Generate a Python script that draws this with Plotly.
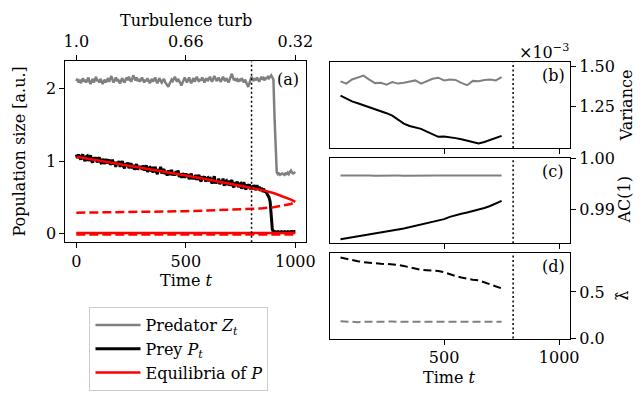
import plotly.graph_objects as go

# ---------------- data ----------------
time_a = list(range(0, 1001, 5))

predator = [
    2.10, 2.13, 2.08, 2.12, 2.07, 2.11, 2.14, 2.09, 2.12, 2.08,
    2.11, 2.15, 2.09, 2.06, 2.10, 2.13, 2.08, 2.11, 2.16, 2.10,
    2.12, 2.08, 2.13, 2.10, 2.06, 2.09, 2.12, 2.08, 2.11, 2.14,
    2.09, 2.13, 2.17, 2.12, 2.08, 2.11, 2.15, 2.10, 2.13, 2.09,
    2.07, 2.11, 2.14, 2.10, 2.08, 2.12, 2.15, 2.11, 2.16, 2.12,
    2.09, 2.13, 2.18, 2.14, 2.11, 2.15, 2.10, 2.13, 2.09, 2.12,
    2.15, 2.11, 2.08, 2.12, 2.10, 2.14, 2.11, 2.07, 2.10, 2.13,
    2.09, 2.12, 2.15, 2.10, 2.07, 2.11, 2.14, 2.10, 2.08, 2.11,
    2.13, 2.09, 2.06, 2.03, 2.02, 2.06, 2.09, 2.12, 2.10, 2.13,
    2.16, 2.12, 2.09, 2.13, 2.10, 2.06, 2.04, 2.08, 2.12, 2.15,
    2.11, 2.08, 2.12, 2.15, 2.10, 2.07, 2.11, 2.14, 2.09, 2.12,
    2.16, 2.12, 2.09, 2.13, 2.11, 2.15, 2.10, 2.08, 2.12, 2.14,
    2.10, 2.13, 2.16, 2.12, 2.09, 2.13, 2.17, 2.14, 2.10, 2.12,
    2.15, 2.11, 2.09, 2.13, 2.16, 2.12, 2.10, 2.14, 2.11, 2.08,
    2.12, 2.16, 2.20, 2.15, 2.11, 2.14, 2.10, 2.12, 2.09, 2.13,
    2.10, 2.14, 2.11, 2.08, 2.12, 2.09, 2.05, 2.02, 2.07, 2.12,
    2.16, 2.13, 2.10, 2.14, 2.11, 2.15, 2.12, 2.09, 2.13, 2.16,
    2.12, 2.14, 2.11, 2.15, 2.13, 2.17, 2.14, 2.16, 2.18, 2.15,
    2.12, 1.60, 1.05, 0.85, 0.82, 0.83, 0.81, 0.82, 0.83, 0.82,
    0.81, 0.83, 0.82, 0.84, 0.82, 0.85, 0.87, 0.84, 0.83, 0.84,
    0.85,
]

prey = [
    1.09, 1.04, 1.09, 1.05, 1.02, 1.07, 1.09, 1.03, 1.00, 1.06,
    1.07, 1.00, 1.04, 1.08, 1.00, 0.98, 1.05, 1.02, 1.05, 0.98,
    1.03, 1.05, 0.99, 0.96, 1.03, 1.00, 0.96, 1.03, 0.97, 1.00,
    1.02, 0.95, 0.97, 1.02, 0.95, 0.99, 0.92, 0.99, 0.95, 1.00,
    0.92, 0.97, 1.00, 0.93, 0.90, 0.97, 0.94, 0.98, 0.90, 0.94,
    0.97, 0.90, 0.95, 0.88, 0.93, 0.96, 0.88, 0.93, 0.90, 0.93,
    0.88, 0.94, 0.87, 0.91, 0.94, 0.85, 0.90, 0.91, 0.86, 0.92,
    0.84, 0.89, 0.92, 0.86, 0.82, 0.89, 0.86, 0.92, 0.83, 0.87,
    0.89, 0.82, 0.86, 0.80, 0.87, 0.84, 0.81, 0.88, 0.80, 0.84,
    0.80, 0.86, 0.82, 0.87, 0.78, 0.83, 0.77, 0.83, 0.81, 0.77,
    0.83, 0.78, 0.82, 0.75, 0.80, 0.83, 0.75, 0.79, 0.75, 0.81,
    0.74, 0.79, 0.81, 0.74, 0.72, 0.79, 0.75, 0.79, 0.72, 0.76,
    0.77, 0.72, 0.78, 0.73, 0.69, 0.75, 0.79, 0.69, 0.73, 0.70,
    0.76, 0.68, 0.73, 0.70, 0.76, 0.66, 0.72, 0.73, 0.67, 0.73,
    0.66, 0.71, 0.74, 0.66, 0.64, 0.71, 0.67, 0.72, 0.64, 0.68,
    0.69, 0.62, 0.68, 0.71, 0.63, 0.61, 0.68, 0.64, 0.68, 0.61,
    0.66, 0.61, 0.67, 0.64, 0.60, 0.67, 0.61, 0.65, 0.59, 0.63,
    0.60, 0.62, 0.58, 0.58, 0.55, 0.54, 0.50, 0.44, 0.28, 0.06,
    0.02, 0.03, 0.02, 0.03, 0.03, 0.02, 0.03, 0.03, 0.02, 0.03,
    0.03, 0.02, 0.03, 0.03, 0.02, 0.03, 0.03, 0.03, 0.02, 0.03,
    0.03,
]

eq_t = [0, 100, 200, 300, 400, 500, 600, 700, 800, 850, 900, 950, 980, 1000]
eq_stable = [1.06, 1.01, 0.955, 0.90, 0.85, 0.80, 0.745, 0.69, 0.635, 0.60, 0.56, 0.51, 0.47, 0.44]
eq_unstable = [0.29, 0.292, 0.295, 0.30, 0.305, 0.31, 0.32, 0.33, 0.34, 0.35, 0.365, 0.39, 0.41, 0.44]
eq_zero_t = [0, 1000]
eq_zero_solid = [0.012, 0.012]
eq_zero_dashed = [-0.008, -0.008]

time_ticks = [0, 500, 1000]
turb_ticks = ["1.0", "0.66", "0.32"]
tip_t = 800

ews_t = list(range(50, 751, 25))
var_prey = [1.320, 1.302, 1.284, 1.272, 1.260, 1.247, 1.234, 1.222, 1.210, 1.195,
            1.172, 1.145, 1.130, 1.120, 1.112, 1.095, 1.076, 1.062, 1.064, 1.061,
            1.054, 1.047, 1.038, 1.026, 1.020, 1.030, 1.043, 1.055, 1.068]
var_pred = [1.409, 1.395, 1.421, 1.432, 1.445, 1.420, 1.398, 1.400, 1.388, 1.405,
            1.395, 1.400, 1.408, 1.415, 1.395, 1.412, 1.425, 1.432, 1.415, 1.420,
            1.418, 1.400, 1.385, 1.412, 1.410, 1.418, 1.420, 1.415, 1.435]
ac_prey = [0.98405, 0.98425, 0.98448, 0.98470, 0.98492, 0.98512, 0.98530, 0.98548, 0.98565, 0.98580,
           0.98598, 0.98615, 0.98640, 0.98665, 0.98687, 0.98710, 0.98737, 0.98768, 0.98800, 0.98845,
           0.98882, 0.98905, 0.98930, 0.98955, 0.98985, 0.99020, 0.99060, 0.99105, 0.99160]
ac_pred = [0.99660, 0.99662, 0.99658, 0.99660, 0.99663, 0.99659, 0.99657, 0.99660, 0.99658, 0.99661,
           0.99659, 0.99657, 0.99660, 0.99662, 0.99659, 0.99658, 0.99660, 0.99661, 0.99659, 0.99657,
           0.99660, 0.99659, 0.99658, 0.99660, 0.99661, 0.99659, 0.99658, 0.99660, 0.99659]
lam_prey = [0.870, 0.855, 0.840, 0.830, 0.820, 0.812, 0.806, 0.802, 0.800, 0.797,
            0.790, 0.778, 0.762, 0.748, 0.738, 0.733, 0.730, 0.725, 0.712, 0.690,
            0.670, 0.655, 0.640, 0.632, 0.625, 0.605, 0.580, 0.558, 0.538]
lam_pred = [0.186, 0.181, 0.173, 0.176, 0.179, 0.181, 0.182, 0.181, 0.180, 0.182,
            0.181, 0.180, 0.181, 0.182, 0.180, 0.181, 0.182, 0.181, 0.180, 0.181,
            0.182, 0.181, 0.182, 0.179, 0.183, 0.181, 0.180, 0.181, 0.180]

# ---------------- styling ----------------
FONT = "DejaVu Serif"
TICK_SIZE = 16
LABEL_SIZE = 16
GREY = "#808080"
RED = "#ff0000"

W, H = 641, 399


def px_x(p):
    return p / W


def px_y(p):
    return 1 - p / H


fig = go.Figure()

# Panel (a)
fig.add_trace(go.Scatter(x=time_a, y=predator, mode="lines", line=dict(color=GREY, width=2.5),
                         name="Predator <i>Z</i><sub><i>t</i></sub>", xaxis="x", yaxis="y"))
fig.add_trace(go.Scatter(x=time_a, y=prey, mode="lines", line=dict(color="black", width=3),
                         name="Prey <i>P</i><sub><i>t</i></sub>", xaxis="x", yaxis="y"))
fig.add_trace(go.Scatter(x=eq_t, y=eq_stable, mode="lines", line=dict(color=RED, width=2.5),
                         name="Equilibria of <i>P</i>", xaxis="x", yaxis="y"))
fig.add_trace(go.Scatter(x=eq_t, y=eq_unstable, mode="lines", line=dict(color=RED, width=2.5, dash="9px,4px"),
                         showlegend=False, xaxis="x", yaxis="y"))
fig.add_trace(go.Scatter(x=eq_zero_t, y=eq_zero_dashed, mode="lines", line=dict(color=RED, width=3, dash="9px,4px"),
                         showlegend=False, xaxis="x", yaxis="y"))
fig.add_trace(go.Scatter(x=eq_zero_t, y=eq_zero_solid, mode="lines", line=dict(color=RED, width=2.5),
                         showlegend=False, xaxis="x", yaxis="y"))
# invisible trace to carry the top (turbulence) axis
fig.add_trace(go.Scatter(x=time_ticks, y=[None] * len(time_ticks), mode="lines",
                         showlegend=False, hoverinfo="skip", xaxis="x2", yaxis="y"))

# Panel (b) variance
fig.add_trace(go.Scatter(x=ews_t, y=var_pred, mode="lines", line=dict(color=GREY, width=2),
                         showlegend=False, xaxis="x3", yaxis="y3"))
fig.add_trace(go.Scatter(x=ews_t, y=var_prey, mode="lines", line=dict(color="black", width=2),
                         showlegend=False, xaxis="x3", yaxis="y3"))
# Panel (c) AC(1)
fig.add_trace(go.Scatter(x=ews_t, y=ac_pred, mode="lines", line=dict(color=GREY, width=2),
                         showlegend=False, xaxis="x4", yaxis="y4"))
fig.add_trace(go.Scatter(x=ews_t, y=ac_prey, mode="lines", line=dict(color="black", width=2),
                         showlegend=False, xaxis="x4", yaxis="y4"))
# Panel (d) lambda
fig.add_trace(go.Scatter(x=ews_t, y=lam_pred, mode="lines", line=dict(color=GREY, width=2, dash="8px,4px"),
                         showlegend=False, xaxis="x5", yaxis="y5"))
fig.add_trace(go.Scatter(x=ews_t, y=lam_prey, mode="lines", line=dict(color="black", width=2, dash="8px,4px"),
                         showlegend=False, xaxis="x5", yaxis="y5"))

tickfont = dict(family=FONT, size=TICK_SIZE, color="black")
common = dict(showline=True, linecolor="black", linewidth=1, mirror=True, ticks="outside",
              ticklen=5, tickwidth=1, tickcolor="black", showgrid=False, zeroline=False,
              tickfont=tickfont)

left_dom = [px_x(64.5), px_x(309.6)]
right_dom = [px_x(333.3), px_x(578)]
right_range = [2.5, 1047.5]

fig.update_layout(
    width=W, height=H, margin=dict(l=0, r=0, t=0, b=0),
    paper_bgcolor="white", plot_bgcolor="white",
    font=dict(family=FONT, size=LABEL_SIZE, color="black"),
    xaxis=dict(domain=left_dom, range=[-50, 1050], tickvals=time_ticks, anchor="y",
               ticklabelstandoff=-1, **common),
    xaxis2=dict(overlaying="x", side="top", anchor="y", range=[-50, 1050], tickvals=time_ticks,
                ticktext=turb_ticks, ticks="outside", ticklen=5, tickcolor="black", showline=False,
                showgrid=False, zeroline=False, tickfont=tickfont, ticklabelstandoff=2),
    yaxis=dict(domain=[px_y(245), px_y(55)], range=[-0.118, 2.371], tickvals=[0, 1, 2], anchor="x", **common),
    xaxis3=dict(domain=right_dom, range=right_range, tickvals=[500, 1000], showticklabels=False,
                anchor="y3", **common),
    yaxis3=dict(domain=[px_y(146), px_y(56)], range=[0.992, 1.528], tickvals=[1.25, 1.5],
                ticktext=["1.25", "1.50"], side="right", anchor="x3", **common),
    xaxis4=dict(domain=right_dom, range=right_range, tickvals=[500, 1000], showticklabels=False,
                anchor="y4", **common),
    yaxis4=dict(domain=[px_y(246), px_y(156)], range=[0.98325, 1.00013], tickvals=[0.99, 1.0],
                ticktext=["0.99", "1.00"], side="right", anchor="x4", **common),
    xaxis5=dict(domain=right_dom, range=right_range, tickvals=[500, 1000], anchor="y5",
                ticklabelstandoff=-1, **common),
    yaxis5=dict(domain=[px_y(346), px_y(256)], range=[0, 0.92], tickvals=[0, 0.5],
                ticktext=["0.0", "0.5"], side="right", anchor="x5", **common),
    legend=dict(x=px_x(89), y=px_y(313), xanchor="left", yanchor="top",
                bgcolor="white", bordercolor="#cccccc", borderwidth=1,
                font=dict(family=FONT, size=LABEL_SIZE, color="black"), itemwidth=45, tracegroupgap=0),
    showlegend=True,
)

# dotted tipping line in every panel
for xr, yr in [("x", "y"), ("x3", "y3"), ("x4", "y4"), ("x5", "y5")]:
    fig.add_shape(type="line", xref=xr, yref=yr + " domain", x0=tip_t, x1=tip_t, y0=0, y1=1,
                  line=dict(color="black", width=1.5, dash="2px,2.5px"))

ann = dict(showarrow=False, xref="paper", yref="paper", xanchor="center", yanchor="middle",
           font=dict(family=FONT, size=LABEL_SIZE, color="black"))
texts = [
    ("Turbulence turb", 187, 12, 0),
    ("Population size [a.u.]", 18, 150, -90),
    ("Time <i>t</i>", 187.5, 285, 0),
    ("Time <i>t</i>", 455.5, 387, 0),
    ("(a)", 291, 74, 0),
    ("(b)", 561.5, 70, 0),
    ("(c)", 560.5, 170.5, 0),
    ("(d)", 561.5, 270.5, 0),
    ("Variance", 635, 101, -90),
    ("AC(1)", 633, 201, -90),
    ("λ\u0302", 632, 301, -90),
]
for txt, x, y, ang in texts:
    fig.add_annotation(text=txt, x=px_x(x), y=px_y(y), textangle=ang, **ann)
fig.add_annotation(text="×10<sup>−3</sup>", x=px_x(579), y=px_y(45), showarrow=False,
                   xref="paper", yref="paper", xanchor="right", yanchor="middle",
                   font=dict(family=FONT, size=TICK_SIZE, color="black"))

fig.write_html("out.html")
